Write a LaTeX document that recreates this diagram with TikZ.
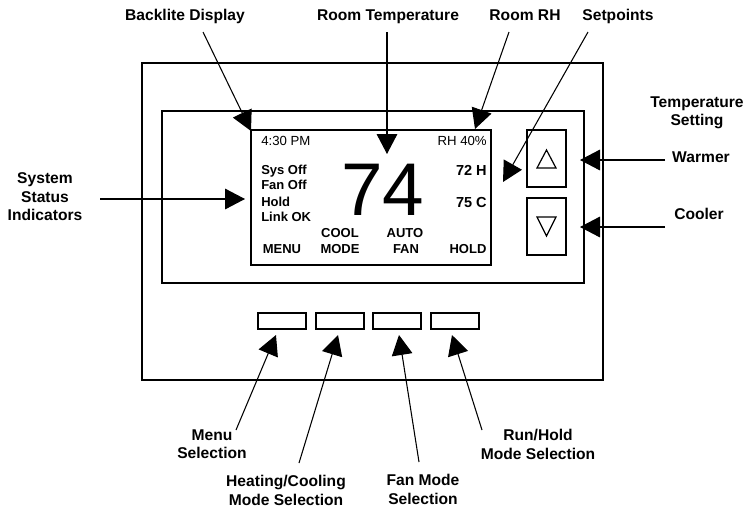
\documentclass[tikz,border=0pt]{standalone}
\usepackage{fontspec}
\setmainfont{Liberation Sans}
\usepackage{tikz}
\usetikzlibrary{arrows.meta}

\tikzset{
  lbl/.style={font=\fontsize{11.7}{13.9}\selectfont\bfseries,align=center,inner sep=0pt},
  lcdtxt/.style={font=\fontsize{9.75}{11}\selectfont\bfseries,inner sep=0pt},
  lcdreg/.style={font=\fontsize{9.9}{11}\selectfont,inner sep=0pt},
  setpt/.style={font=\fontsize{10.9}{12}\selectfont\bfseries,inner sep=0pt},
  ptr/.style={-{Triangle[length=15pt,width=15.5pt]},line width=0.8pt},
  btn/.style={line width=1.1pt}
}

\begin{document}
\begin{tikzpicture}[x=0.75pt,y=-0.75pt]
  \useasboundingbox (0,0) rectangle (751,508);

  % housing, window and display
  \draw[line width=1.5pt] (142,63) rectangle (603,380);
  \draw[line width=1pt] (162,111) rectangle (584,283);
  \draw[line width=1.25pt] (251,130) rectangle (491,265);

  % up / down keys
  \draw[btn] (527,130) rectangle (566,187);
  \draw[btn] (527,198) rectangle (566,255);
  \draw[line width=0.9pt] (546.5,150) -- (556,168) -- (537,168) -- cycle;
  \draw[line width=0.9pt] (537,217) -- (556,217) -- (546.5,236) -- cycle;

  % soft keys
  \foreach \x in {258,316,373,431}{
    \draw[btn] (\x,313) rectangle ++(48,16);
  }

  % display contents
  \node[lcdreg,anchor=base west] (clock) at (261,145.7) {4:30 PM};
  \node[lcdreg,anchor=base east] (rhval) at (487,145.7) {RH 40\%};
  \node[lcdtxt,anchor=base west] (sysoff) at (261,174) {Sys Off};
  \node[lcdtxt,anchor=base west] (fanoff) at (261,189) {Fan Off};
  \node[lcdtxt,anchor=base west] (hold) at (261,206) {Hold};
  \node[lcdtxt,anchor=base west] (link) at (261,221) {Link OK};
  \node[font=\fontsize{56}{56}\selectfont,inner sep=0pt,text height=40pt,
        text depth=0pt,anchor=base] (temp) at (383,215) {74};
  \node[setpt,anchor=base east] (heatsp) at (487,175) {72 H};
  \node[setpt,anchor=base east] (coolsp) at (487,207) {75 C};
  \node[lcdtxt,anchor=base] (cool) at (340,237.7) {COOL};
  \node[lcdtxt,anchor=base] (auto) at (405,237.7) {AUTO};
  \node[lcdtxt,anchor=base] (menu) at (282,253.3) {MENU};
  \node[lcdtxt,anchor=base] (mode) at (340,253.3) {MODE};
  \node[lcdtxt,anchor=base] (fan) at (406,253.3) {FAN};
  \node[lcdtxt,anchor=base] (holdkey) at (468,253.3) {HOLD};

  % callout labels
  \node[lbl,anchor=base] (bklbl) at (185,20.7) {Backlite Display};
  \node[lbl,anchor=base] (rtlbl) at (388,20.7) {Room Temperature};
  \node[lbl,anchor=base] (rhlbl) at (525,20.7) {Room RH};
  \node[lbl,anchor=base] (splbl) at (618,20.7) {Setpoints};
  \node[lbl,anchor=north] (tslbl) at (697,96.4) {Temperature\\Setting};
  \node[lbl,anchor=base] (wmlbl) at (701,162.7) {Warmer};
  \node[lbl,anchor=base] (cllbl) at (699,219.3) {Cooler};
  \node[lbl,anchor=north] (sslbl) at (45,172.4) {System\\Status\\Indicators};
  \node[lbl,anchor=north] (mnlbl) at (212,429.4) {Menu\\Selection};
  \node[lbl,anchor=north] (hclbl) at (286,475.4) {Heating/Cooling\\Mode Selection};
  \node[lbl,anchor=north] (fnlbl) at (423,474.4) {Fan Mode\\Selection};
  \node[lbl,anchor=north] (rnlbl) at (538,429.4) {Run/Hold\\Mode Selection};

  % arrow ends
  \coordinate (bk1) at (203,32);  \coordinate (bk2) at (251,131);
  \coordinate (rt1) at (387,32);  \coordinate (rt2) at (387,154);
  \coordinate (rh1) at (509,32);  \coordinate (rh2) at (475,129);
  \coordinate (sp1) at (588,32);  \coordinate (sp2) at (503,182);
  \coordinate (ss1) at (100,199); \coordinate (ss2) at (245,199);
  \coordinate (wm1) at (665,160); \coordinate (wm2) at (580,160);
  \coordinate (cl1) at (665,227); \coordinate (cl2) at (580,227);
  \coordinate (mn1) at (236,430); \coordinate (mn2) at (276,335);
  \coordinate (hc1) at (299,463); \coordinate (hc2) at (338,335);
  \coordinate (fn1) at (419,462); \coordinate (fn2) at (399,335);
  \coordinate (rn1) at (482,430); \coordinate (rn2) at (452,335);

  \foreach \a in {bk,rt,rh,sp,ss,wm,cl,mn,hc,fn,rn}{
    \draw[ptr] (\a1) -- (\a2);
  }
\end{tikzpicture}
\end{document}
